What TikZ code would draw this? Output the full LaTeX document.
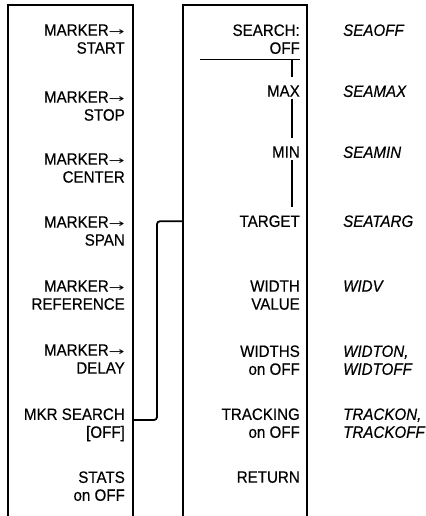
\documentclass[tikz,border=0pt]{standalone}
\usepackage{fontspec}
\setmainfont{Liberation Sans}[FakeStretch=0.92, FakeBold=0.4]
\newfontfamily\arrowfont{DejaVu Sans}[FakeStretch=1.75]
\newcommand{\mkarrow}{{\arrowfont\fontsize{11}{11}\selectfont →}}
\usetikzlibrary{positioning}

\begin{document}
\begin{tikzpicture}[
		x=1bp, y=-1bp,
		frame/.style={line width=1.8bp},
		key/.style={anchor=north east, align=right, inner sep=0pt, font=\fontsize{16.5}{18}\selectfont},
		mnem/.style={anchor=north west, align=left, inner sep=0pt, font=\fontsize{16.5}{18}\selectfont\itshape},
		link/.style={line width=1.8bp, rounded corners=3bp},
		stem/.style={line width=1.2bp}
		]
		\useasboundingbox (0,0) rectangle (425,516);
		
		% --- Softkey frames, open at the bottom ---
		\draw[frame] (8,516) -- (8,5) -- (133,5) -- (133,516);
		\draw[frame] (183,516) -- (183,5) -- (307,5) -- (307,516);
		\coordinate (lframe) at (133,0);
		\coordinate (rframe) at (183,0);
		\coordinate (bend) at (157,0);
		
		% --- Marker menu ---
		\node[key] (start) at (125,24.2) {MARKER\mkarrow\\START};
		\node[key] (stop) at (125,91.2) {MARKER\mkarrow\\STOP};
		\node[key] (center) at (125,153.2) {MARKER\mkarrow\\CENTER};
		\node[key] (span) at (125,216.2) {MARKER\mkarrow\\SPAN};
		\node[key] (ref) at (125,280.2) {MARKER\mkarrow\\REFERENCE};
		\node[key] (delay) at (125,344.2) {MARKER\mkarrow\\DELAY};
		\node[key] (mkr) at (125,408.2) {MKR SEARCH\\{[OFF]}};
		\node[key] (stats) at (125,471.2) {STATS\\on OFF};
		
		% --- Search menu ---
		\node[key] (search) at (300,24.2) {SEARCH:\\OFF};
		\node[key] (max) at (300,85.2) {MAX};
		\node[key] (min) at (300,146.2) {MIN};
		\node[key] (target) at (300,215.2) {TARGET};
		\node[key] (wval) at (300,280.2) {WIDTH\\VALUE};
		\node[key] (widths) at (300,345.2) {WIDTHS\\on OFF};
		\node[key] (track) at (300,408.2) {TRACKING\\on OFF};
		\node[key] (return) at (300,471.2) {RETURN};
		
		% --- Mnemonics ---
		\node[mnem] (m1) at (343,24.2) {SEAOFF};
		\node[mnem] (m2) at (343,85.2) {SEAMAX};
		\node[mnem] (m3) at (343,146.2) {SEAMIN};
		\node[mnem] (m4) at (343,215.2) {SEATARG};
		\node[mnem] (m5) at (343,280.2) {WIDV};
		\node[mnem] (m6) at (343,345.2) {WIDTON,\\WIDTOFF};
		\node[mnem] (m7) at (343,408.2) {TRACKON,\\TRACKOFF};
		
		% --- Search choices ---
		\coordinate (sep) at ([yshift=-5bp]search.south east);
		\draw[stem] (sep) -- ++(-100,0);
		\draw[stem] ([xshift=-8bp]sep) -- ([xshift=-8bp, yshift=8bp]max.north east);
		\draw[stem] ([xshift=-8bp, yshift=-2bp]max.south east) -- ([xshift=-8bp, yshift=8bp]min.north east);
		\draw[stem] ([xshift=-8bp, yshift=-2bp]min.south east) -- ([xshift=-8bp, yshift=8bp]target.north east);
		
		% --- Link to the search menu ---
		\coordinate (mkrline) at ([yshift=-11.8bp]mkr.north east);
		\draw[link] (mkrline -| lframe) -| (bend |- target.west) -- (target.west -| rframe);
		
	\end{tikzpicture}
\end{document}
